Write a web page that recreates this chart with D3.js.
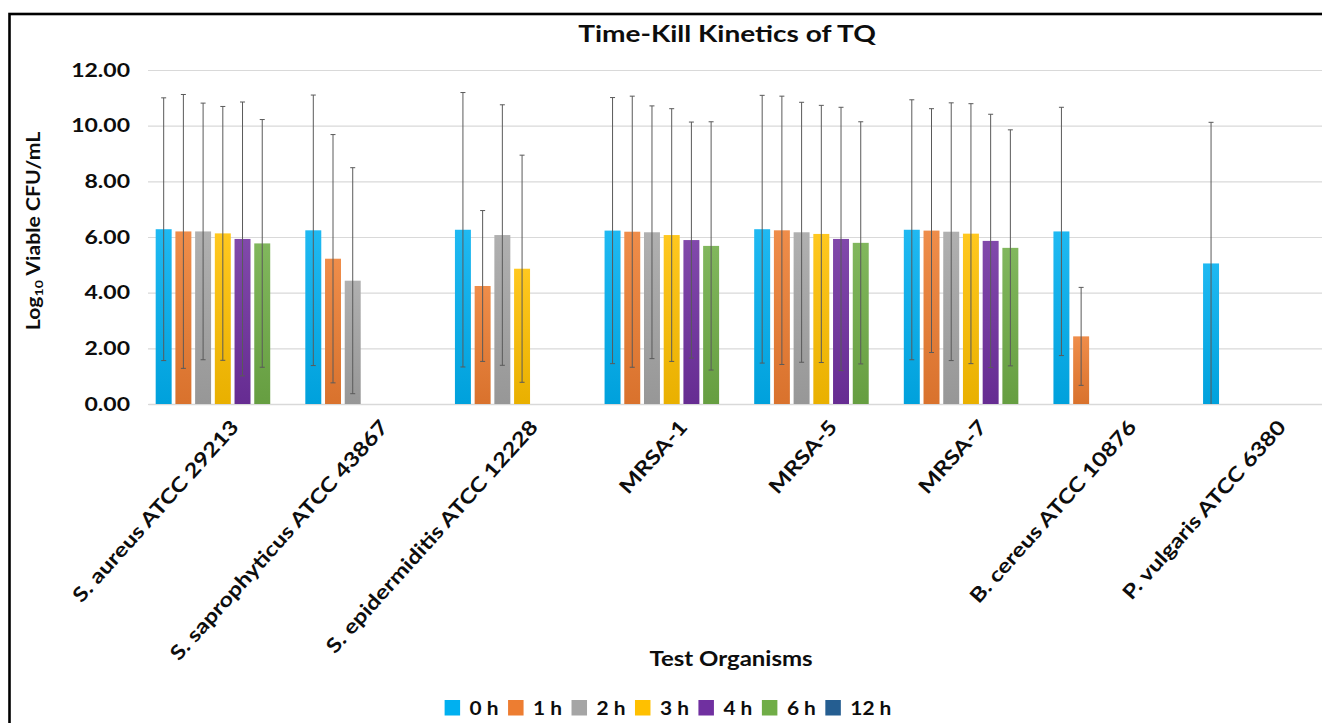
<!DOCTYPE html>
<html>
<head>
<meta charset="utf-8">
<script src="https://cdn.jsdelivr.net/npm/d3@7"></script>
<style>
  html, body { margin: 0; padding: 0; background: #ffffff; }
  svg { display: block; }
  text { font-family: Lato, "Open Sans", sans-serif; font-weight: 700; fill: #0d0d0d; }
</style>
</head>
<body>
<svg id="chart" width="1322" height="723"></svg>
<script>
// ---------- data ----------
const categories = [
  "S. aureus ATCC 29213",
  "S. saprophyticus ATCC 43867",
  "S. epidermiditis ATCC 12228",
  "MRSA-1",
  "MRSA-5",
  "MRSA-7",
  "B. cereus ATCC 10876",
  "P. vulgaris ATCC 6380"
];
const seriesNames = ["0 h", "1 h", "2 h", "3 h", "4 h", "6 h", "12 h"];
const seriesColors = ["#00B0F0", "#ED7D31", "#A5A5A5", "#FFC000", "#7030A0", "#70AD47", "#255E91"];

const values0h  = [6.28, 6.24, 6.26, 6.23, 6.28, 6.26, 6.20, 5.05];
const values1h  = [6.20, 5.22, 4.24, 6.19, 6.24, 6.23, 2.43, null];
const values2h  = [6.20, 4.43, 6.07, 6.17, 6.17, 6.19, null, null];
const values3h  = [6.13, null, 4.86, 6.07, 6.11, 6.12, null, null];
const values4h  = [5.93, null, null, 5.89, 5.93, 5.86, null, null];
const values6h  = [5.77, null, null, 5.68, 5.79, 5.61, null, null];
const values12h = [null, null, null, null, null, null, null, null];

const errors0h  = [4.72, 4.86, 4.93, 4.78, 4.81, 4.67, 4.46, 5.07];
const errors1h  = [4.92, 4.46, 2.71, 4.87, 4.82, 4.38, 1.76, null];
const errors2h  = [4.61, 4.06, 4.68, 4.54, 4.67, 4.63, null, null];
const errors3h  = [4.56, null, 4.08, 4.54, 4.62, 4.67, null, null];
const errors4h  = [4.92, null, null, 4.24, 4.73, 4.55, null, null];
const errors6h  = [4.45, null, null, 4.46, 4.35, 4.24, null, null];
const errors12h = [null, null, null, null, null, null, null, null];

const yTicks = [0, 2, 4, 6, 8, 10, 12];
const titleText = "Time-Kill Kinetics of TQ";
const xTitleText = "Test Organisms";

// ---------- build table ----------
const allValues = [values0h, values1h, values2h, values3h, values4h, values6h, values12h];
const allErrors = [errors0h, errors1h, errors2h, errors3h, errors4h, errors6h, errors12h];
const records = [];
categories.forEach((c, i) => {
  seriesNames.forEach((s, j) => {
    const v = allValues[j][i];
    if (v !== null) records.push({ cat: c, series: s, si: j, value: v, err: allErrors[j][i] });
  });
});

// ---------- layout ----------
const svg = d3.select("#chart");
const W = 1322, H = 723;
const plot = { left: 148, right: 1345, top: 70, bottom: 404 };
const SX = 1.22; // horizontal stretch of lettering seen in the reference

// frame border (extends beyond right/bottom edges)
svg.append("rect")
  .attr("x", 9.5).attr("y", 14)
  .attr("width", W + 20).attr("height", H + 20)
  .attr("fill", "#ffffff").attr("stroke", "#000000").attr("stroke-width", 2.6);

const x0 = d3.scaleBand().domain(categories).range([plot.left, plot.right]).paddingInner(0).paddingOuter(0);
const x1 = d3.scaleBand().domain(seriesNames).range([0, x0.bandwidth()]).paddingInner(0.19).paddingOuter(0.39);
const y = d3.scaleLinear().domain([0, 12]).range([plot.bottom, plot.top]);
const color = d3.scaleOrdinal().domain(seriesNames).range(seriesColors);

// gradients
const defs = svg.append("defs");
seriesNames.forEach((s, j) => {
  const base = d3.color(seriesColors[j]);
  const g = defs.append("linearGradient").attr("id", "grad" + j)
    .attr("x1", 0).attr("y1", 0).attr("x2", 0).attr("y2", 1);
  g.append("stop").attr("offset", "0%").attr("stop-color", d3.interpolateRgb(base, "#ffffff")(0.12));
  g.append("stop").attr("offset", "100%").attr("stop-color", base.darker(0.25));
});

// gridlines
const yAxis = d3.axisLeft(y).tickValues(yTicks).tickFormat("")
  .tickSize(-(plot.right - plot.left));
const gy = svg.append("g").attr("transform", `translate(${plot.left},0)`).call(yAxis);
gy.select(".domain").remove();
gy.selectAll(".tick line").attr("stroke", "#d9d9d9").attr("stroke-width", 1.2);

// y tick labels
svg.append("g").selectAll("text")
  .data(yTicks).join("text")
  .attr("transform", d => `translate(130,${y(d) + 6.5}) scale(${SX + 0.06},1)`)
  .attr("text-anchor", "end")
  .style("font-size", "18px")
  .text(d3.format(".2f"));

// x axis baseline
const xAxis = d3.axisBottom(x0).tickSize(0).tickFormat("");
const gx = svg.append("g").attr("transform", `translate(0,${plot.bottom})`).call(xAxis);
gx.select(".domain").attr("stroke", "#d9d9d9").attr("stroke-width", 1.5);

// bars
const groups = svg.append("g").selectAll("g.grp")
  .data(categories).join("g")
  .attr("class", "grp")
  .attr("transform", d => `translate(${x0(d)},0)`);

groups.selectAll("rect")
  .data(c => records.filter(r => r.cat === c))
  .join("rect")
  .attr("x", d => x1(d.series))
  .attr("width", x1.bandwidth())
  .attr("y", d => y(d.value))
  .attr("height", d => y(0) - y(d.value))
  .attr("fill", d => `url(#grad${d.si})`);

// error bars
const eb = groups.selectAll("g.err")
  .data(c => records.filter(r => r.cat === c && r.err !== null))
  .join("g").attr("class", "err")
  .attr("stroke", "#5a5a5a").attr("stroke-width", 1);
const cx = d => x1(d.series) + x1.bandwidth() / 2;
eb.append("line")
  .attr("x1", cx).attr("x2", cx)
  .attr("y1", d => y(d.value + d.err)).attr("y2", d => y(Math.max(d.value - d.err, 0)));
eb.append("line")
  .attr("x1", d => cx(d) - 2.5).attr("x2", d => cx(d) + 2.5)
  .attr("y1", d => y(d.value + d.err)).attr("y2", d => y(d.value + d.err));
eb.filter(d => d.value - d.err > 0.05).append("line")
  .attr("x1", d => cx(d) - 2.5).attr("x2", d => cx(d) + 2.5)
  .attr("y1", d => y(d.value - d.err)).attr("y2", d => y(d.value - d.err));

// category labels
svg.append("g").selectAll("text")
  .data(categories).join("text")
  .attr("transform", d => `translate(${x0(d) + x0.bandwidth() / 2 + 17},${plot.bottom + 24}) rotate(-48) scale(1.2,1)`)
  .attr("text-anchor", "end")
  .style("font-size", "20px")
  .text(d => d);

// title
svg.append("text")
  .attr("transform", `translate(727,42) scale(${SX},1)`)
  .attr("text-anchor", "middle")
  .style("font-size", "23px")
  .text(titleText);

// y axis title
const yt = svg.append("text")
  .attr("transform", `translate(40,231) rotate(-90) scale(1.18,1)`)
  .attr("text-anchor", "middle")
  .style("font-size", "18px");
yt.append("tspan").text("Log");
yt.append("tspan").attr("dy", 3).style("font-size", "12px").text("10");
yt.append("tspan").attr("dy", -3).text(" Viable CFU/mL");

// x axis title
svg.append("text")
  .attr("transform", `translate(731,666) scale(1.2,1)`)
  .attr("text-anchor", "middle")
  .style("font-size", "20px")
  .text(xTitleText);

// legend
const LSX = 1.16;
const legend = svg.append("g");
const items = legend.selectAll("g").data(seriesNames).join("g");
items.append("rect").attr("width", 15.5).attr("height", 15.5).attr("y", -15)
  .attr("fill", d => color(d));
items.append("text").attr("transform", `translate(25,0) scale(${LSX},1)`)
  .style("font-size", "18px").text(d => d);
let cursor = 0;
items.each(function () {
  const node = d3.select(this);
  node.attr("transform", `translate(${cursor},0)`);
  const tw = node.select("text").node().getComputedTextLength() * LSX;
  cursor += 25 + tw + 9.5;
});
const totalW = cursor - 9.5;
legend.attr("transform", `translate(${668 - totalW / 2},715)`);
</script>
</body>
</html>
